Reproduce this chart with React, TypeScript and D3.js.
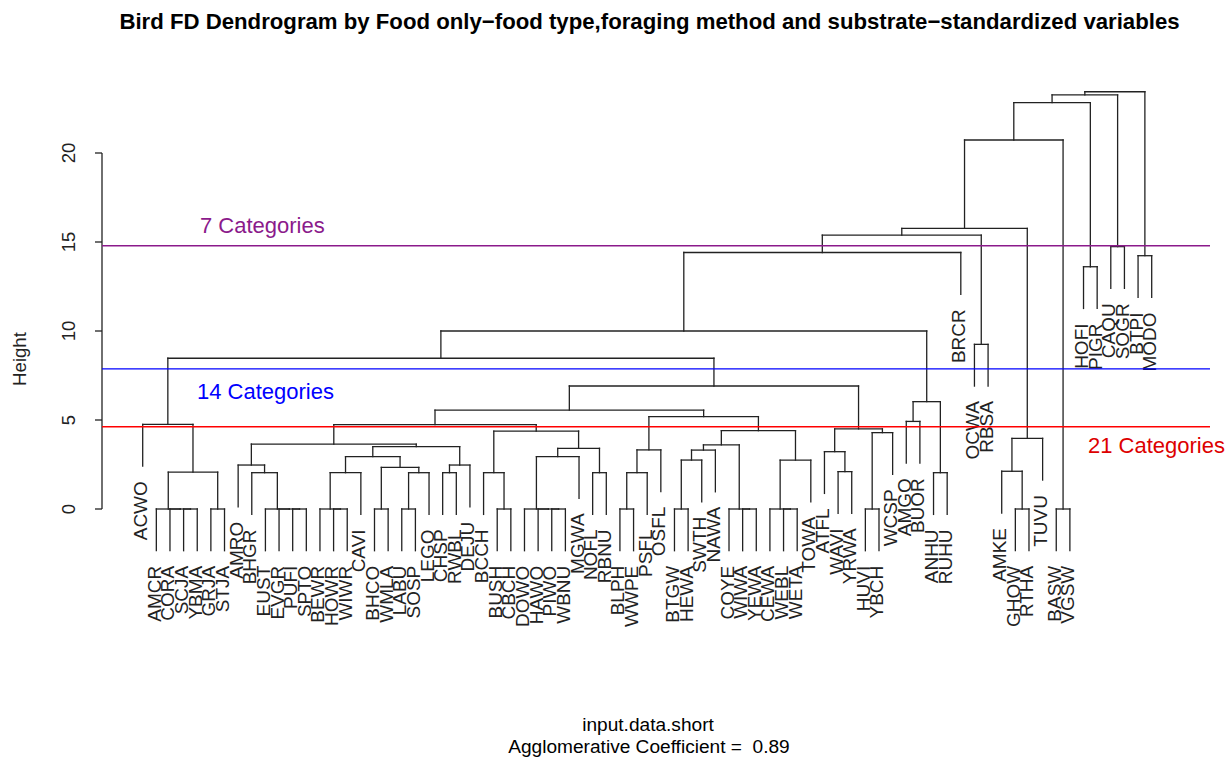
import React from "react";
import * as d3 from "d3";

// Leaf labels in dendrogram order
const leafLabels = [
  "ACWO", "AMCR", "CORA", "SCJA", "YBMA", "GRJA", "STJA", "AMRO", "BHGR", "EUST",
  "EVGR", "PUFI", "SPTO", "BEWR", "HOWR", "WIWR", "CAVI", "BHCO", "WMLA", "LABU",
  "SOSP", "LEGO", "CHSP", "RWBL", "DEJU", "BCCH", "BUSH", "CBCH", "DOWO", "HAWO",
  "PIWO", "WBNU", "MGWA", "NOFL", "RBNU", "BLPH", "WWPE", "PSFL", "OSFL", "BTGW",
  "HEWA", "SWTH", "NAWA", "COYE", "WIWA", "YEWA", "CEWA", "WEBL", "WETA", "TOWA",
  "ATFL", "WAVI", "YRWA", "HUVI", "YBCH", "WCSP", "AMGO", "BUOR", "ANHU", "RUHU",
  "BRCR", "OCWA", "RBSA", "AMKE", "GHOW", "RTHA", "TUVU", "BASW", "VGSW", "HOFI",
  "PIGR", "CAQU", "SOGR", "BTPI", "MODO",
];

// R hclust-style merge table: negative = leaf (1-based), positive = earlier merge row
const mergeLeft = [
  -4, -3, -2, -6, 3, -1, -12, -11, -10, -9,
  -8, -15, -14, 13, -18, -20, 16, 15, 14, -23,
  20, 19, 11, -27, -26, -31, -30, -29, 28, -34,
  29, 25, 23, -36, 34, 35, -40, 37, 38, -45,
  -44, 39, -48, -47, 44, 42, 36, 33, -52, -51,
  -54, 51, 50, 48, 6, -57, -59, 56, 55, 59,
  -62, 60, -65, -64, 64, 62, -68, 66, -70, 68,
  -72, 70, -74, 72,
];
const mergeRight = [
  -5, 1, 2, -7, 4, 5, -13, 7, 8, 9,
  10, -16, 12, -17, -19, -21, -22, 17, 18, -24,
  -25, 21, 22, -28, 24, -32, 26, 27, -33, -35,
  30, 31, 32, -37, -38, -39, -41, -42, -43, -46,
  40, 41, -49, 43, -50, 45, 46, 47, -53, 49,
  -55, -56, 52, 53, 54, -58, -60, 57, 58, -61,
  -63, 61, -66, 63, -67, 65, -69, 67, -71, 69,
  -73, 71, -75, 73,
];
const mergeHeight = [
  0, 0, 0, 0, 2.07, 4.75, 0, 0, 0, 2.04,
  2.47, 0, 0, 2.04, 0, 0, 2.04, 2.34, 2.94, 2.04,
  2.47, 3.5, 3.65, 0, 2.04, 0, 0, 0, 2.94, 2.04,
  3.41, 4.38, 4.74, 0, 2.04, 3.32, 0, 2.75, 3.31, 0,
  0, 3.6, 0, 0, 2.75, 4.4, 5.19, 5.56, 2.1, 3.22,
  0, 4.29, 4.5, 6.91, 8.47, 4.92, 2.04, 6.03, 10.0, 14.41,
  9.25, 15.39, 0, 2.12, 3.97, 15.77, 0, 20.73, 13.61, 22.83,
  14.74, 23.26, 14.23, 23.44,
];

const yTicks = [0, 5, 10, 15, 20];

const cutHeights = [14.79, 7.87, 4.62];
const cutLabels = ["7 Categories", "14 Categories", "21 Categories"];
const cutColors = ["#8B1A8B", "#0000FF", "#FF0000"];
const cutTextColors = ["#8B1A8B", "#0000FF", "#DD0000"];

const titleText =
  "Bird FD Dendrogram by Food only\u2212food type,foraging method and substrate\u2212standardized variables";
const xLabel = "input.data.short";
const subLabel = "Agglomerative Coefficient =  0.89";

const FONT = "'Liberation Sans', Arial, Helvetica, sans-serif";

export default function App() {
  const W = 1230;
  const H = 761;
  const n = leafLabels.length;
  const x = d3.scaleLinear().domain([1, n]).range([142.7, 1151.7]);
  const y = d3.scaleLinear().domain([0, 20]).range([509, 153]);
  const maxH = d3.max(mergeHeight) as number;
  const hang = 0.1 * maxH;

  const nodeX: number[] = [];
  const segs: { x1: number; y1: number; x2: number; y2: number }[] = [];
  const leaves: { label: string; x: number; yEnd: number }[] = [];

  const childPos = (c: number, h: number) => {
    if (c < 0) {
      const i = -c;
      const lx = x(i);
      const endH = h - hang;
      segs.push({ x1: lx, y1: y(endH), x2: lx, y2: y(h) });
      leaves.push({ label: leafLabels[i - 1], x: lx, yEnd: y(endH) });
      return lx;
    }
    const cx = nodeX[c - 1];
    segs.push({ x1: cx, y1: y(mergeHeight[c - 1]), x2: cx, y2: y(h) });
    return cx;
  };

  mergeHeight.forEach((h, k) => {
    const xa = childPos(mergeLeft[k], h);
    const xb = childPos(mergeRight[k], h);
    segs.push({ x1: xa, y1: y(h), x2: xb, y2: y(h) });
    nodeX[k] = (xa + xb) / 2;
  });

  const axisX = 102;
  const lineX0 = 102;
  const lineX1 = 1210;
  const labelPos = [
    { x: 200, y: 233 },
    { x: 197, y: 399 },
    { x: 1088, y: 453 },
  ];

  return (
    <svg
      width={W}
      height={H}
      viewBox={`0 0 ${W} ${H}`}
      style={{ position: "absolute", left: 0, top: 0, background: "#fff" }}
      fontFamily={FONT}
    >
      <rect x={0} y={0} width={W} height={H} fill="#fff" />
      <text x={649.5} y={29} textAnchor="middle" fontWeight="bold" fontSize={22.2} fill="#000">
        {titleText}
      </text>

      {/* y axis */}
      <line x1={axisX} x2={axisX} y1={y(0)} y2={y(20)} stroke="#222" strokeWidth={1.3} />
      {yTicks.map((t) => (
        <g key={t}>
          <line x1={axisX - 7} x2={axisX} y1={y(t)} y2={y(t)} stroke="#222" strokeWidth={1.3} />
          <text
            transform={`translate(75,${y(t)}) rotate(-90)`}
            textAnchor="middle"
            fontSize={18.6}
            fill="#222"
          >
            {t}
          </text>
        </g>
      ))}
      <text transform={`translate(26,359) rotate(-90)`} textAnchor="middle" fontSize={18.6} fill="#222">
        Height
      </text>

      {/* dendrogram */}
      <g stroke="#222" strokeWidth={1.3} strokeLinecap="square">
        {segs.map((s, i) => (
          <line key={i} x1={s.x1} y1={s.y1} x2={s.x2} y2={s.y2} />
        ))}
      </g>
      {leaves.map((l) => (
        <text
          key={l.label}
          transform={`translate(${l.x + 4.5},${l.yEnd + 15}) rotate(-90)`}
          textAnchor="end"
          fontSize={19}
          fill="#222"
        >
          {l.label}
        </text>
      ))}

      {/* cut lines */}
      {cutHeights.map((h, i) => (
        <g key={i}>
          <line x1={lineX0} x2={lineX1} y1={y(h)} y2={y(h)} stroke={cutColors[i]} strokeWidth={1.3} />
          <text x={labelPos[i].x} y={labelPos[i].y} fontSize={22} fill={cutTextColors[i]}>
            {cutLabels[i]}
          </text>
        </g>
      ))}

      <text x={648} y={731} textAnchor="middle" fontSize={19.1} fill="#000">
        {xLabel}
      </text>
      <text x={649} y={753} textAnchor="middle" fontSize={19.1} fill="#000" style={{ whiteSpace: "pre" }}>
        {subLabel}
      </text>
    </svg>
  );
}
